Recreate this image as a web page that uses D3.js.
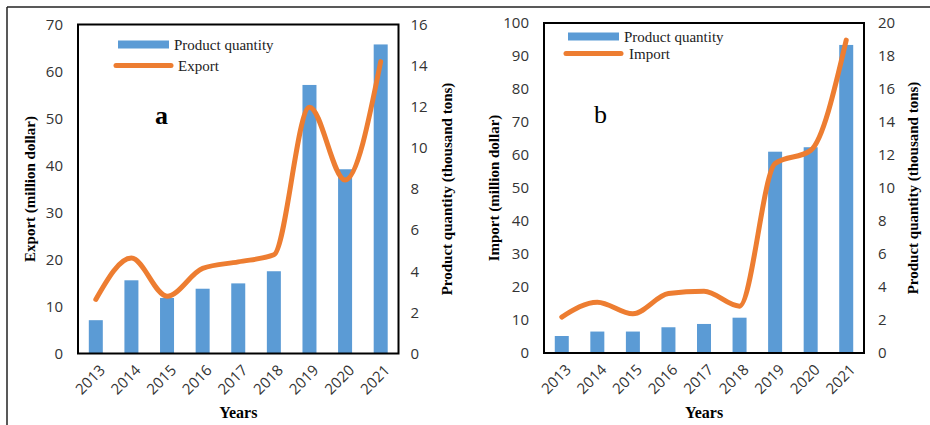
<!DOCTYPE html>
<html>
<head>
<meta charset="utf-8">
<script src="https://cdn.jsdelivr.net/npm/d3@7"></script>
<style>
  html, body { margin: 0; padding: 0; background: #fff; }
  svg { display: block; }
</style>
</head>
<body>
<svg id="chart" width="930" height="425"></svg>
<script>
// Years on the horizontal axis (shared by both panels)
const years = ["2013", "2014", "2015", "2016", "2017", "2018", "2019", "2020", "2021"];

// Panel a: product quantity (thousand tons) and export value (million dollar)
const exportQuantity = [1.62, 3.56, 2.7, 3.15, 3.41, 4.0, 13.06, 8.96, 15.03];
const exportValue = [11.5, 20.3, 12.2, 18.1, 19.5, 21.0, 52.4, 36.9, 62.1];

// Panel b: product quantity (thousand tons) and import value (million dollar)
const importQuantity = [1.03, 1.30, 1.30, 1.56, 1.76, 2.14, 12.2, 12.47, 18.67];
const importValue = [10.9, 15.4, 11.9, 18.0, 18.7, 14.2, 57.4, 61.4, 94.8];

// Axis tick values
const exportTicks = [0, 10, 20, 30, 40, 50, 60, 70];
const exportQtyTicks = [0, 2, 4, 6, 8, 10, 12, 14, 16];
const importTicks = [0, 10, 20, 30, 40, 50, 60, 70, 80, 90, 100];
const importQtyTicks = [0, 2, 4, 6, 8, 10, 12, 14, 16, 18, 20];

const BLUE = "#5b9bd5";
const ORANGE = "#ed7d31";
const TICK_FONT = "'Open Sans', sans-serif";
const SERIF = "'Liberation Serif', 'Times New Roman', serif";

const svg = d3.select("#chart");

// Outer frame (top and left rules)
svg.append("line").attr("x1", 7).attr("y1", 7).attr("x2", 930).attr("y2", 7)
  .attr("stroke", "#222").attr("stroke-width", 1.5);
svg.append("line").attr("x1", 7).attr("y1", 7).attr("x2", 7).attr("y2", 425)
  .attr("stroke", "#222").attr("stroke-width", 1.5);

function drawPanel(cfg) {
  const { left, top, right, bottom } = cfg.box;
  const g = svg.append("g");

  const xc = d3.scalePoint().domain(years).range([left, right]).padding(0.5);
  const yL = d3.scaleLinear().domain([0, cfg.leftMax]).range([bottom, top]);
  const yR = d3.scaleLinear().domain([0, cfg.rightMax]).range([bottom, top]);

  // Bars: product quantity on the right axis
  g.selectAll("rect.bar").data(years).join("rect")
    .attr("class", "bar")
    .attr("x", (d) => xc(d) - cfg.barWidth / 2)
    .attr("width", cfg.barWidth)
    .attr("y", (d, i) => yR(cfg.qty[i]))
    .attr("height", (d, i) => bottom - yR(cfg.qty[i]))
    .attr("fill", BLUE);

  // Smoothed value line on the left axis
  const line = d3.line()
    .x((d, i) => xc(years[i]))
    .y((d) => yL(d))
    .curve(d3.curveMonotoneX);
  g.append("path").datum(cfg.value)
    .attr("d", line)
    .attr("fill", "none")
    .attr("stroke", ORANGE)
    .attr("stroke-width", 5)
    .attr("stroke-linecap", "round")
    .attr("stroke-linejoin", "round");

  // Plot frame
  g.append("rect").attr("x", left).attr("y", top)
    .attr("width", right - left).attr("height", bottom - top)
    .attr("fill", "none").attr("stroke", "#000").attr("stroke-width", 2);

  // Left axis
  const axL = g.append("g").attr("transform", `translate(${left},0)`)
    .call(d3.axisLeft(yL).tickValues(cfg.leftTicks).tickSize(0).tickPadding(cfg.leftPad));
  // Right axis
  const axR = g.append("g").attr("transform", `translate(${right},0)`)
    .call(d3.axisRight(yR).tickValues(cfg.rightTicks).tickSize(0).tickPadding(cfg.rightPad));
  [axL, axR].forEach((ax) => {
    ax.select(".domain").remove();
    ax.selectAll("text").attr("font-family", TICK_FONT).attr("font-size", 15).attr("fill", "#333");
  });

  // Bottom axis with rotated year labels
  const axB = g.append("g").attr("transform", `translate(0,${bottom})`)
    .call(d3.axisBottom(xc).tickSize(0).tickPadding(0));
  axB.select(".domain").remove();
  axB.selectAll("text")
    .attr("font-family", TICK_FONT).attr("font-size", 15).attr("fill", "#333")
    .attr("text-anchor", "end")
    .attr("dy", "0.35em")
    .attr("transform", "translate(6,14) rotate(-45)");

  // Axis titles
  const midY = (top + bottom) / 2;
  g.append("text")
    .attr("transform", `translate(${cfg.leftTitleX},${midY}) rotate(-90)`)
    .attr("text-anchor", "middle").attr("dy", "0.35em")
    .attr("font-family", SERIF).attr("font-weight", "bold").attr("font-size", 15)
    .text(cfg.leftTitle);
  g.append("text")
    .attr("transform", `translate(${cfg.rightTitleX},${midY}) rotate(-90)`)
    .attr("text-anchor", "middle").attr("dy", "0.35em")
    .attr("font-family", SERIF).attr("font-weight", "bold").attr("font-size", 15)
    .text("Product quantity (thousand tons)");
  g.append("text")
    .attr("x", (left + right) / 2).attr("y", 418)
    .attr("text-anchor", "middle")
    .attr("font-family", SERIF).attr("font-weight", "bold").attr("font-size", 16)
    .text("Years");

  // Panel letter
  g.append("text")
    .attr("x", cfg.letter.x).attr("y", cfg.letter.y)
    .attr("font-family", SERIF).attr("font-size", 26)
    .attr("font-weight", cfg.letter.weight)
    .text(cfg.letter.text);

  // Legend
  const lg = g.append("g").attr("transform", `translate(${cfg.legend.x},${cfg.legend.y})`);
  lg.append("rect").attr("x", 2).attr("y", -4).attr("width", 51).attr("height", 8).attr("fill", BLUE);
  lg.append("text").attr("x", 58).attr("y", 0).attr("dy", "0.35em")
    .attr("font-family", SERIF).attr("font-size", 15).attr("fill", "#222")
    .text("Product quantity");
  lg.append("line").attr("x1", 0).attr("x2", 55).attr("y1", cfg.legend.gap).attr("y2", cfg.legend.gap)
    .attr("stroke", ORANGE).attr("stroke-width", 5).attr("stroke-linecap", "round");
  lg.append("text").attr("x", cfg.legend.labelX).attr("y", cfg.legend.gap).attr("dy", "0.35em")
    .attr("font-family", SERIF).attr("font-size", 15).attr("fill", "#222")
    .text(cfg.seriesName);
}

drawPanel({
  box: { left: 78, top: 24.5, right: 398.5, bottom: 353.5 },
  qty: exportQuantity, value: exportValue,
  leftMax: 70, rightMax: 16, leftTicks: exportTicks, rightTicks: exportQtyTicks,
  leftPad: 15, rightPad: 12, barWidth: 14,
  leftTitle: "Export (million dollar)", leftTitleX: 30, rightTitleX: 447,
  seriesName: "Export",
  letter: { text: "a", x: 155, y: 124, weight: "bold" },
  legend: { x: 116, y: 44.5, gap: 21, labelX: 62 }
});

drawPanel({
  box: { left: 544, top: 23, right: 864, bottom: 353 },
  qty: importQuantity, value: importValue,
  leftMax: 100, rightMax: 20, leftTicks: importTicks, rightTicks: importQtyTicks,
  leftPad: 15, rightPad: 14, barWidth: 14,
  leftTitle: "Import (million dollar)", leftTitleX: 494, rightTitleX: 913,
  seriesName: "Import",
  letter: { text: "b", x: 594, y: 123, weight: "normal" },
  legend: { x: 566, y: 36.5, gap: 17, labelX: 63 }
});
</script>
</body>
</html>
